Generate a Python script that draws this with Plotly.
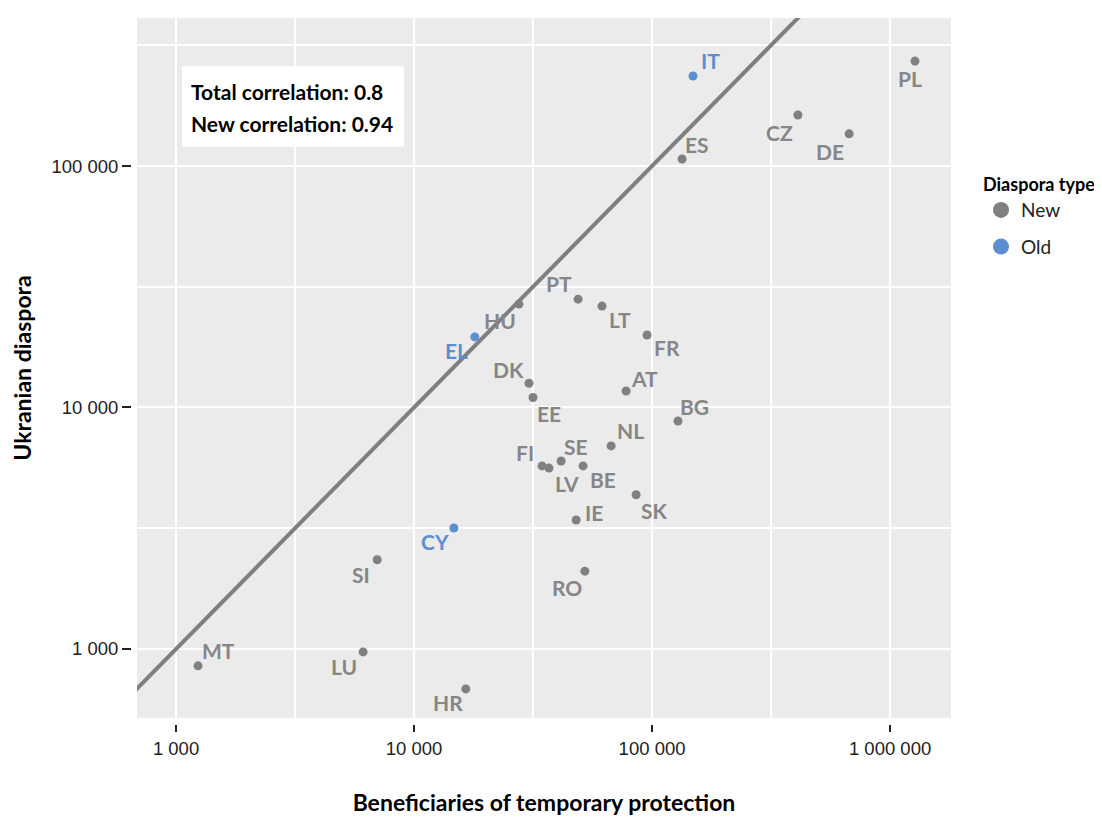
import math
import plotly.graph_objects as go

countries = ["PL", "IT", "CZ", "DE", "ES", "PT", "HU", "LT", "FR", "EL", "DK", "AT", "EE", "BG",
             "NL", "SE", "FI", "LV", "BE", "SK", "IE", "CY", "SI", "RO", "MT", "LU", "HR"]
beneficiaries = [1273000, 148600, 410000, 673000, 133700, 48900, 27600, 61600, 95300, 18000,
                 30400, 77800, 31600, 128500, 67300, 41500, 34500, 36900, 51300, 85700,
                 48000, 14700, 7000, 52200, 1237, 6110, 16500]
diaspora = [272000, 236000, 162600, 135900, 106900, 28100, 26800, 26300, 19950, 19600,
            12600, 11700, 11000, 8790, 6930, 6000, 5730, 5610, 5730, 4350,
            3420, 3170, 2340, 2100, 851, 972, 683]
diaspora_type = ["New", "Old", "New", "New", "New", "New", "New", "New", "New", "Old",
                 "New", "New", "New", "New", "New", "New", "New", "New", "New", "New",
                 "New", "Old", "New", "New", "New", "New", "New"]
tick_vals_x = [1000, 10000, 100000, 1000000]
tick_text_x = ["1 000", "10 000", "100 000", "1 000 000"]
tick_vals_y = [1000, 10000, 100000]
tick_text_y = ["1 000", "10 000", "100 000"]
minor_x = [3162.28, 31622.8, 316228]
minor_y = [316.228, 3162.28, 31622.8, 316228]
corr_lines = ["Total correlation: 0.8", "New correlation: 0.94"]

# label offsets in pixels (style, not data)
label_offsets = {
    "PL": (-5, 17), "IT": (17, -15), "CZ": (-18, 17), "DE": (-19, 18), "ES": (15, -15),
    "PT": (-19, -16), "HU": (-19, 16), "LT": (18, 13), "FR": (20, 12), "EL": (-18, 14),
    "DK": (-20, -14), "AT": (18, -13), "EE": (16, 16), "BG": (17, -15), "NL": (19, -15),
    "SE": (15, -15), "FI": (-17, -13), "LV": (18, 15), "BE": (20, 14), "SK": (18, 16),
    "IE": (18, -7), "CY": (-19, 14), "SI": (-16, 15), "RO": (-18, 16), "MT": (20, -15),
    "LU": (-19, 15), "HR": (-18, 14),
}

colors = {"New": "#808080", "Old": "#5b8fd0"}
FONT = "Lato"
TICKFONT = "Liberation Sans, Arial, sans-serif"
xr = [2.836, 6.256]
yr = [2.714, 5.613]

fig = go.Figure()

# identity reference line y = x spanning the axis
lo, hi = 10 ** 2.5, 10 ** 6.5
fig.add_trace(go.Scatter(x=[lo, hi], y=[lo, hi], mode="lines",
                         line=dict(color="#7f7f7f", width=4), showlegend=False,
                         hoverinfo="skip"))

for t in ["New", "Old"]:
    idx = [i for i, d in enumerate(diaspora_type) if d == t]
    fig.add_trace(go.Scatter(
        x=[beneficiaries[i] for i in idx], y=[diaspora[i] for i in idx],
        text=[countries[i] for i in idx], mode="markers",
        marker=dict(color=colors[t], size=9), showlegend=False))
    fig.add_trace(go.Scatter(x=[None], y=[None], mode="markers", name=t, legendgroup=t,
                             marker=dict(color=colors[t], size=16), showlegend=True))

for c, bx, dy, t in zip(countries, beneficiaries, diaspora, diaspora_type):
    ox, oy = label_offsets[c]
    fig.add_annotation(x=math.log10(bx), y=math.log10(dy), xref="x", yref="y",
                       text="<b>" + c + "</b>", showarrow=False,
                       xshift=ox, yshift=-oy,
                       font=dict(family=FONT, size=21, color=colors[t] if t == "Old" else "#868686"))

# correlation box
fig.add_shape(type="rect", xref="x domain", yref="y domain", x0=0.0553, x1=0.328, y0=0.816, y1=0.931,
              fillcolor="white", line=dict(width=0), layer="above")
for line_text, yy in zip(corr_lines, [0.8957, 0.8486]):
    fig.add_annotation(xref="x domain", yref="y domain", x=0.0639, y=yy, xanchor="left", yanchor="middle",
                       text="<b>" + line_text + "</b>", showarrow=False,
                       font=dict(family=FONT, size=21, color="black"))

fig.update_layout(
    width=1102, height=819,
    margin=dict(l=123, r=159, t=10, b=103, autoexpand=False),
    paper_bgcolor="white", plot_bgcolor="#ebebeb",
    font=dict(family=FONT, size=17, color="#333333"),
    legend=dict(title=dict(text="<b>Diaspora type</b>", font=dict(size=18, color="black")),
                x=1.0366, y=0.788, xanchor="left", yanchor="top",
                font=dict(size=19, color="#222222"), itemsizing="trace",
                bgcolor="rgba(0,0,0,0)", tracegroupgap=9),
)
fig.update_xaxes(type="log", range=xr, tickvals=tick_vals_x, ticktext=tick_text_x,
                 domain=[6 / 820, 1], anchor="free", position=0,
                 showgrid=True, gridcolor="white", gridwidth=2, zeroline=False,
                 ticks="outside", ticklen=7, tickwidth=2, tickcolor="#222222",
                 ticklabelstandoff=1,
                 tickfont=dict(family=TICKFONT, size=18.5, color="#222222"),
                 minor=dict(tickvals=minor_x, showgrid=True, gridcolor="white", gridwidth=2, ticks=""),
                 title=dict(text="<b>Beneficiaries of temporary protection</b>", standoff=36,
                            font=dict(family=FONT, size=23, color="black")))
fig.update_yaxes(type="log", range=yr, tickvals=tick_vals_y, ticktext=tick_text_y,
                 domain=[6 / 706, 1], anchor="free", position=0,
                 showgrid=True, gridcolor="white", gridwidth=2, zeroline=False,
                 ticks="outside", ticklen=9, tickwidth=2, tickcolor="#222222",
                 ticklabelstandoff=0,
                 tickfont=dict(family=TICKFONT, size=18.5, color="#222222"),
                 minor=dict(tickvals=minor_y, showgrid=True, gridcolor="white", gridwidth=2, ticks=""),
                 title=dict(text="<b>Ukranian diaspora</b>", standoff=14,
                            font=dict(family=FONT, size=23, color="black")))

fig.write_html("out.html")
